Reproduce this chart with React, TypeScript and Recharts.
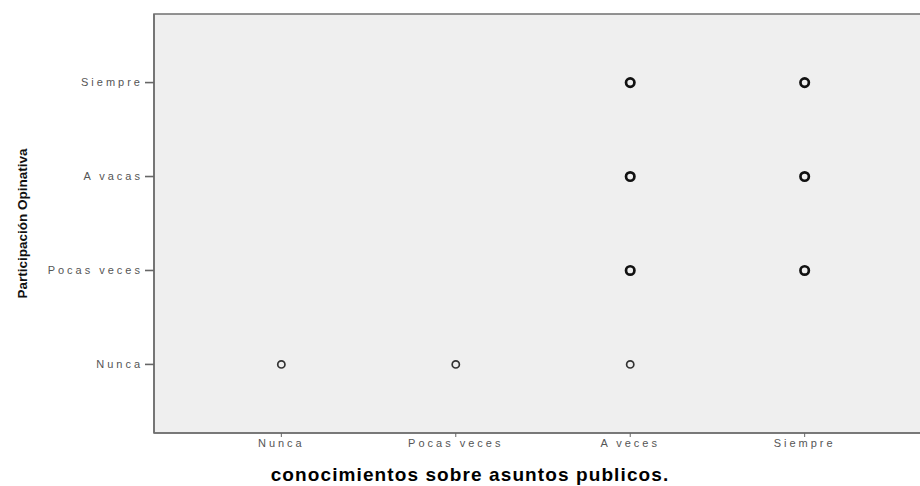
import { ScatterChart, Scatter, XAxis, YAxis, ReferenceArea, Label } from 'recharts'

// categories shared by both axes (1 = Nunca ... 4 = Siempre)
const categories = ['Nunca', 'Pocas veces', 'A veces', 'Siempre']
const yCategories = ['Nunca', 'Pocas veces', 'A vacas', 'Siempre']

// observed combinations (x = conocimientos, y = participación)
const xValues = [3, 4, 3, 4, 3, 4, 1, 2, 3]
const yValues = [4, 4, 3, 3, 2, 2, 1, 1, 1]

const points = xValues.map((x, i) => ({ x, y: yValues[i] }))

const DOMAIN: [number, number] = [0.27, 4.73]
const tickFont = { fontFamily: 'Liberation Sans, Arial, sans-serif', fontSize: 11, fill: '#555', letterSpacing: 3 }

const Ring = (props: any) => {
  const { cx, cy, payload } = props
  const thin = payload.y === 1
  return <circle cx={cx} cy={cy} r={thin ? 3.6 : 4.2} fill="none" stroke={thin ? '#333' : '#111'} strokeWidth={thin ? 1.7 : 2.7} />
}

const YTitle = (props: any) => {
  const vb = props.viewBox
  const cy = vb.y + vb.height / 2
  return (
    <text
      x={22}
      y={cy}
      transform={`rotate(-90, 22, ${cy})`}
      textAnchor="middle"
      dominantBaseline="central"
      style={{ fontFamily: 'Liberation Sans Narrow, Liberation Sans, Arial', fontWeight: 'bold', fontSize: 13.5, fill: '#111' }}
    >
      Participación Opinativa
    </text>
  )
}

const XTitle = (props: any) => {
  const vb = props.viewBox
  return (
    <text
      x={470}
      y={vb.y + 48}
      textAnchor="middle"
      style={{ fontFamily: 'Liberation Sans, Arial', fontWeight: 'bold', fontSize: 19, fill: '#000', letterSpacing: 1.1 }}
    >
      conocimientos sobre asuntos publicos.
    </text>
  )
}

export default function App() {
  return (
    <div style={{ position: 'fixed', top: 0, left: 0, width: 920, height: 486, overflow: 'hidden', background: '#fff' }}>
      <ScatterChart width={950} height={486} margin={{ top: 14, right: 18, bottom: 0, left: 0 }}>
        <ReferenceArea
          x1={DOMAIN[0]}
          x2={DOMAIN[1]}
          y1={DOMAIN[0]}
          y2={DOMAIN[1]}
          fill="#efefef"
          fillOpacity={1}
          stroke="#707070"
          strokeWidth={1.6}
        />
        <XAxis
          type="number"
          dataKey="x"
          domain={DOMAIN}
          ticks={[1, 2, 3, 4]}
          tickFormatter={(v: number) => categories[v - 1]}
          tick={tickFont}
          tickSize={4}
          tickLine={{ stroke: '#666' }}
          axisLine={{ stroke: '#707070', strokeWidth: 1.6 }}
          height={53}
          allowDataOverflow
        >
          <Label content={XTitle} />
        </XAxis>
        <YAxis
          type="number"
          dataKey="y"
          domain={DOMAIN}
          ticks={[1, 2, 3, 4]}
          tickFormatter={(v: number) => yCategories[v - 1]}
          tick={tickFont}
          tickSize={9}
          tickLine={{ stroke: '#666', strokeWidth: 1.6 }}
          axisLine={{ stroke: '#707070', strokeWidth: 1.6 }}
          width={154}
          allowDataOverflow
        >
          <Label content={YTitle} />
        </YAxis>
        <Scatter data={points} shape={Ring} isAnimationActive={false} />
      </ScatterChart>
    </div>
  )
}
